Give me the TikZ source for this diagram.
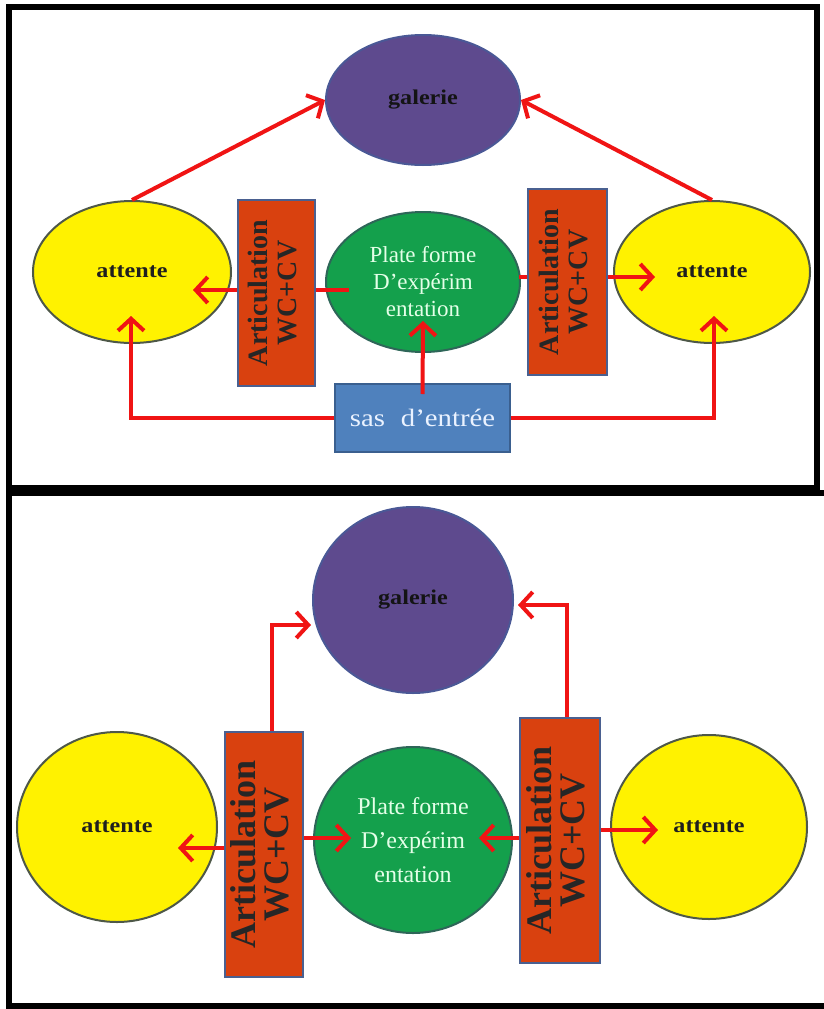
\documentclass[tikz,border=0pt]{standalone}
\usepackage{fontspec}
\usepackage{graphicx}
\setmainfont{Liberation Serif}
\newfontfamily\wideserif[FakeStretch=1.15]{Liberation Serif}
\usetikzlibrary{shapes.geometric,arrows.meta,calc}
\pgfdeclarelayer{bg}\pgfdeclarelayer{fg}
\pgfsetlayers{bg,main,fg}
\definecolor{galc}{HTML}{5E4A8E}
\definecolor{galb}{HTML}{4A5896}
\definecolor{attb}{HTML}{4E5848}
\definecolor{platc}{HTML}{14A04C}
\definecolor{platb}{HTML}{2E6658}
\definecolor{platt}{HTML}{E4FFE8}
\definecolor{artc}{HTML}{D9410F}
\definecolor{artb}{HTML}{4A6090}
\definecolor{sasc}{HTML}{4F81BD}
\definecolor{sasb}{HTML}{3A5F8F}
\definecolor{sast}{HTML}{EAF2FF}
\definecolor{arrc}{HTML}{F01414}
\newcommand{\artictext}[2]{\rotatebox{90}{\fontsize{#1}{#2}\selectfont\bfseries\begin{tabular}{@{}c@{}}Articulation\\WC+CV\end{tabular}}}
\begin{document}
\begin{tikzpicture}[x=1pt,y=-1pt,
  ell/.style={ellipse, draw, line width=2pt, inner sep=0pt},
  gal/.style={ell, fill=galc, draw=galb, text=black!92, font=\wideserif\bfseries\fontsize{21}{25}\selectfont},
  att/.style={ell, fill=yellow, draw=attb, text=black!88, font=\wideserif\bfseries\fontsize{21}{25}\selectfont},
  plat/.style={ell, fill=platc, draw=platb, text=platt, align=center},
  artic/.style={rectangle, draw=artb, fill=artc, line width=2pt, inner sep=0pt, text=black!85},
  sasbox/.style={rectangle, draw=sasb, fill=sasc, line width=2pt, inner sep=0pt, text=sast, font=\wideserif\fontsize{25}{30}\selectfont},
  arr/.style={draw=arrc, line width=4pt, -{Straight Barb[length=12pt,width=26pt]}},
  frame/.style={draw=black, line width=6pt}
]
\useasboundingbox (0,0) rectangle (823,1009);

% ---------- top panel ----------
\begin{pgfonlayer}{bg}
\fill[white] (0,0) rectangle (823,1009);
\node[gal, minimum width=194pt, minimum height=130pt] (G1) at (423,100) {galerie};
\node[att, minimum width=198pt, minimum height=142pt] (A1L) at (132,272) {attente};
\node[att, minimum width=196pt, minimum height=142pt] (A1R) at (712,272) {attente};
\node[plat, minimum width=194pt, minimum height=140pt, font=\fontsize{23}{27}\selectfont] (P1) at (423,282) {Plate forme\\D’expérim\\entation};
\node[sasbox, minimum width=175pt, minimum height=68pt] (S1) at (422.5,418) {sas\hspace{0.35em} d’entrée};
\end{pgfonlayer}
\begin{pgfonlayer}{fg}
\node[artic, minimum width=77pt, minimum height=186pt] (R1L) at (276.5,293) {\artictext{28}{29}};
\node[artic, minimum width=79pt, minimum height=186pt] (R1R) at (567.5,282) {\artictext{28}{29}};
\end{pgfonlayer}

\draw[arr] (A1L.north) -- (G1.west);
\draw[arr] (A1R.north) -- (G1.east);
\draw[arr] ($(P1.center)+(-74,8)$) -- ($(A1L.east)+(-39,18)$);
\draw[arr] ($(P1.east)+(-2,-5)$) -- ($(A1R.west)+(42,5)$);
\draw[arr] ($(S1.north)+(0,11)$) -- ($(P1.south)+(0,-32)$);
\draw[arr] (S1.west) -| ($(A1L.south)+(-1,-28)$);
\draw[arr] (S1.east) -| ($(A1R.south)+(2,-28)$);

% ---------- bottom panel ----------
\begin{pgfonlayer}{bg}
\node[gal, minimum width=200pt, minimum height=186pt] (G2) at (413,600) {galerie};
\node[att, minimum width=200pt, minimum height=190pt] (A2L) at (117,827) {attente};
\node[att, minimum width=196pt, minimum height=184pt] (A2R) at (709,827) {attente};
\node[plat, minimum width=198pt, minimum height=186pt, font=\fontsize{24}{34}\selectfont] (P2) at (413,840) {Plate forme\\D’expérim\\entation};
\end{pgfonlayer}
\begin{pgfonlayer}{fg}
\node[artic, minimum width=78pt, minimum height=245pt] (R2L) at (264,854.5) {\artictext{36}{30}};
\node[artic, minimum width=80pt, minimum height=245pt] (R2R) at (560,840.5) {\artictext{36}{30}};
\end{pgfonlayer}

\draw[arr] ($(R2L.north)+(8,0)$) |- ($(G2.west)+(-1,25)$);
\draw[arr] ($(R2R.north)+(7,0)$) |- ($(G2.east)+(4,5)$);
\draw[arr] ($(R2L.center)+(0,-6.5)$) -- ($(A2L.east)+(-40,21)$);
\draw[arr] ($(R2L.center)+(0,-16.5)$) -- ($(P2.west)+(38,-2)$);
\draw[arr] ($(R2R.center)+(0,-2.5)$) -- ($(P2.east)+(-34,-2)$);
\draw[arr] ($(R2R.center)+(0,-10.5)$) -- ($(A2R.west)+(48,3)$);

% ---------- frames ----------
\draw[frame] (9,6.5) rectangle (817,488);
\draw[frame] (9,493) rectangle (832,1005.5);
\end{tikzpicture}
\end{document}
